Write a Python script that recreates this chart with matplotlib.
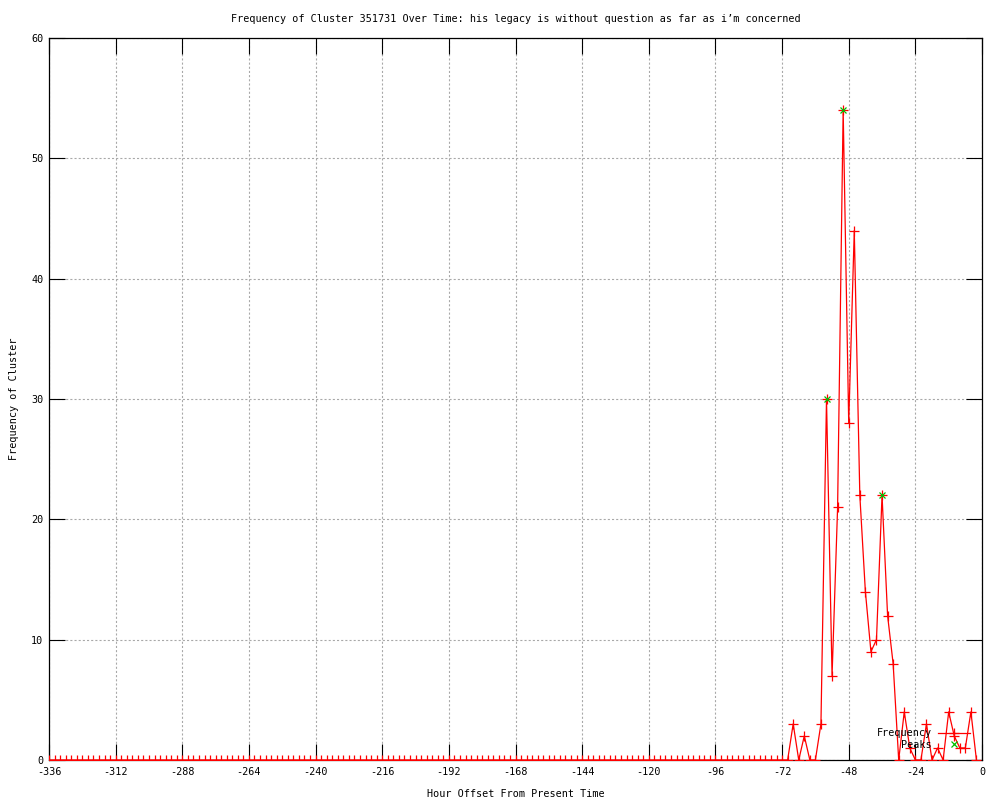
import numpy as np
import matplotlib
matplotlib.use("Agg")
import matplotlib.pyplot as plt

# ---- data ----
hours = np.arange(-336, 0, 2)  # hourly offsets, every 2 hours, -336 .. -2
freq_zeros_early = [0] * 134    # -336 .. -70 all zero
freq_recent = [3, 0, 2, 0, 0, 3, 30, 7, 21, 54, 28, 44, 22, 14, 9, 10, 22, 12, 8,
               0, 4, 1, 0, 0, 3, 0, 1, 0, 4, 2, 1, 1, 4, 0]  # -68 .. -2
frequency = freq_zeros_early + freq_recent

peak_hours = [-56, -50, -36]
peak_values = [30, 54, 22]

x_ticks = [-336, -312, -288, -264, -240, -216, -192, -168, -144, -120, -96, -72, -48, -24, 0]
y_ticks = [0, 10, 20, 30, 40, 50, 60]

title = "Frequency of Cluster 351731 Over Time: his legacy is without question as far as i’m concerned"
xlabel = "Hour Offset From Present Time"
ylabel = "Frequency of Cluster"

# ---- style ----
plt.rcParams['font.family'] = ['DejaVu Sans Mono', 'DejaVu Sans']
plt.rcParams['lines.scale_dashes'] = False
fs = 7.3

fig = plt.figure(figsize=(10, 8), dpi=100)
ax = fig.add_axes([0.049, 0.05, 0.933, 0.9025])

ax.plot(hours, frequency, color='#ff0000', lw=0.9, marker='+', ms=6.5, mew=0.9,
        label='Frequency', zorder=3)
ax.plot(peak_hours, peak_values, linestyle='none', color='#00c000', marker='x',
        ms=5, mew=0.9, label='Peaks', zorder=4)

ax.set_xlim(-336, 0)
ax.set_ylim(0, 60)
ax.set_xticks(x_ticks)
ax.set_yticks(y_ticks)
ax.set_xticklabels([str(v) for v in x_ticks], fontsize=fs)
ax.set_yticklabels([str(v) for v in y_ticks], fontsize=fs)

ax.tick_params(axis='both', which='major', direction='in', length=11.5, width=0.8,
               top=True, right=True, pad=4, labelsize=fs)
ax.tick_params(axis='x', pad=5)

ax.grid(True, color='#a8a8a8', linestyle=(0, (1.5, 1.5)), linewidth=0.8)
ax.set_axisbelow(True)
for s in ax.spines.values():
    s.set_linewidth(0.9)
    s.set_color('black')

ax.set_title(title, fontsize=fs, pad=11.5)
ax.set_xlabel(xlabel, fontsize=fs, labelpad=9)
ax.set_ylabel(ylabel, fontsize=fs, labelpad=9)

leg = ax.legend(loc='lower right', bbox_to_anchor=(0.995, 0.004), frameon=False,
                markerfirst=False, fontsize=fs, handlelength=3.2, handletextpad=0.6,
                labelspacing=0.15, borderpad=0.2)

fig.savefig('out.png', dpi=100)
